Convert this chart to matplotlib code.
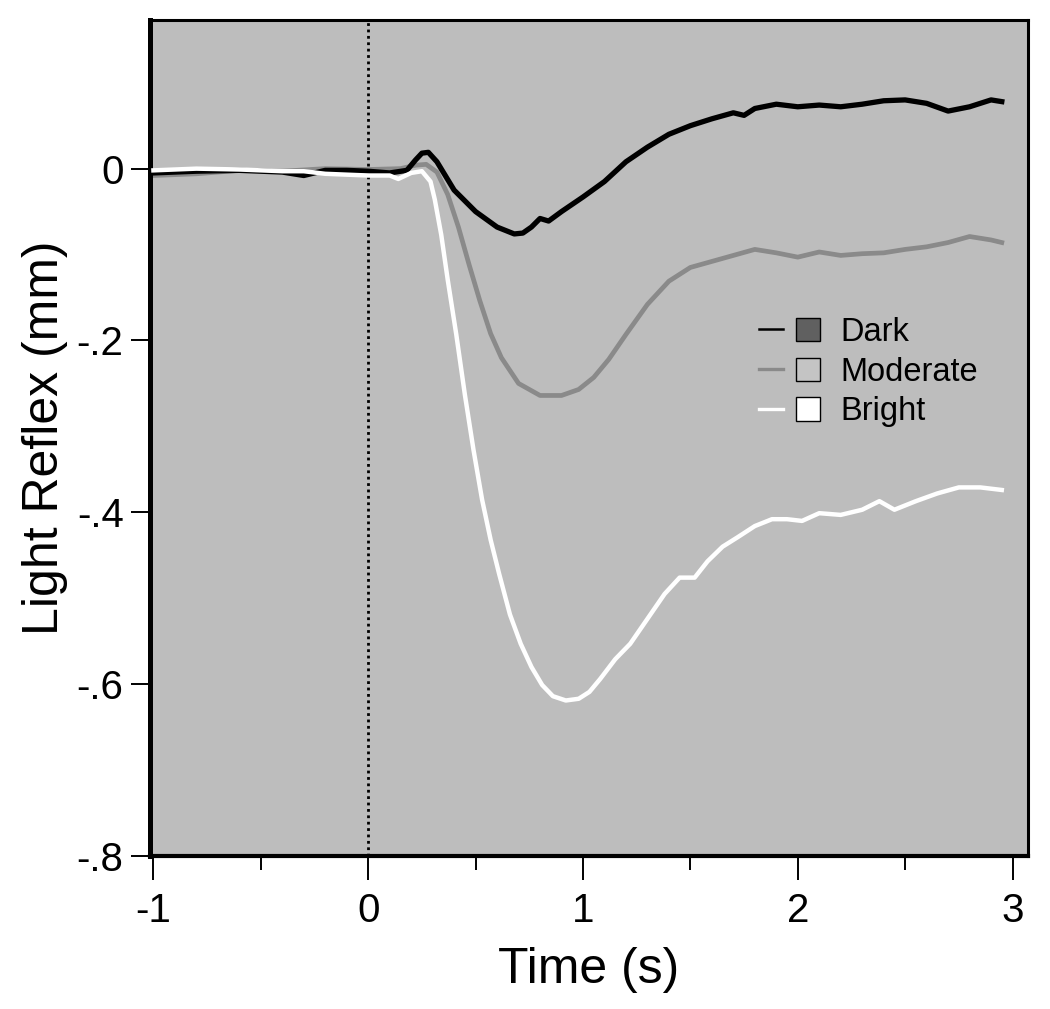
import matplotlib
matplotlib.use("Agg")
import matplotlib.pyplot as plt
from matplotlib.lines import Line2D
from matplotlib.patches import Patch
from matplotlib.legend_handler import HandlerTuple

plt.rcParams['font.family'] = ['Liberation Sans', 'DejaVu Sans']
plt.rcParams['axes.unicode_minus'] = False

# === Data ===
dark_t = [-1.0, -0.8, -0.6, -0.4, -0.3, -0.2, -0.1, 0.0, 0.1, 0.18, 0.22, 0.25,
          0.28, 0.32, 0.4, 0.5, 0.6, 0.68, 0.72, 0.76, 0.8, 0.84, 0.9, 1.0, 1.1,
          1.2, 1.3, 1.4, 1.5, 1.6, 1.7, 1.75, 1.8, 1.9, 2.0, 2.1, 2.2, 2.3, 2.4,
          2.5, 2.6, 2.7, 2.8, 2.9, 2.95]
dark_y = [-0.005, -0.003, -0.002, -0.004, -0.008, -0.002, -0.002, -0.003, -0.005,
          -0.002, 0.01, 0.018, 0.019, 0.008, -0.025, -0.05, -0.068, -0.076, -0.075,
          -0.068, -0.058, -0.061, -0.05, -0.033, -0.015, 0.008, 0.025, 0.04, 0.05,
          0.058, 0.065, 0.062, 0.07, 0.075, 0.072, 0.074, 0.072, 0.075, 0.079,
          0.08, 0.076, 0.067, 0.072, 0.08, 0.078]

moderate_t = [-1.0, -0.8, -0.6, -0.4, -0.2, 0.0, 0.15, 0.22, 0.27, 0.32, 0.37,
              0.42, 0.47, 0.52, 0.57, 0.62, 0.7, 0.8, 0.9, 0.98, 1.05, 1.12, 1.2,
              1.3, 1.4, 1.5, 1.6, 1.7, 1.8, 1.9, 2.0, 2.1, 2.2, 2.3, 2.4, 2.5,
              2.6, 2.7, 2.8, 2.9, 2.95]
moderate_y = [-0.008, -0.006, -0.002, -0.003, 0.0, -0.001, 0.0, 0.004, 0.005,
              -0.004, -0.03, -0.068, -0.112, -0.154, -0.192, -0.22, -0.25, -0.264,
              -0.264, -0.257, -0.243, -0.222, -0.193, -0.158, -0.131, -0.115,
              -0.108, -0.101, -0.094, -0.098, -0.103, -0.097, -0.101, -0.099,
              -0.098, -0.094, -0.091, -0.086, -0.079, -0.083, -0.086]

bright_t = [-1.0, -0.8, -0.6, -0.4, -0.3, -0.2, 0.0, 0.1, 0.14, 0.2, 0.25, 0.29,
            0.31, 0.34, 0.37, 0.41, 0.45, 0.49, 0.53, 0.57, 0.61, 0.66, 0.71,
            0.76, 0.81, 0.86, 0.92, 0.98, 1.03, 1.08, 1.15, 1.22, 1.3, 1.38,
            1.45, 1.52, 1.58, 1.65, 1.72, 1.8, 1.88, 1.95, 2.02, 2.1, 2.2, 2.3,
            2.38, 2.45, 2.55, 2.65, 2.75, 2.85, 2.95]
bright_y = [-0.002, 0.0, -0.001, -0.003, -0.003, -0.006, -0.008, -0.008, -0.012,
            -0.005, -0.003, -0.015, -0.036, -0.077, -0.129, -0.193, -0.263,
            -0.327, -0.385, -0.432, -0.472, -0.519, -0.553, -0.58, -0.601,
            -0.614, -0.619, -0.617, -0.609, -0.594, -0.571, -0.553, -0.524,
            -0.495, -0.476, -0.476, -0.457, -0.44, -0.429, -0.416, -0.408,
            -0.408, -0.41, -0.401, -0.403, -0.397, -0.387, -0.397, -0.387,
            -0.378, -0.371, -0.371, -0.374]

x_ticks = [-1, 0, 1, 2, 3]
x_minor = [-0.5, 0.5, 1.5, 2.5]
y_ticks = [0, -0.2, -0.4, -0.6, -0.8]
y_labels = ["0", "-.2", "-.4", "-.6", "-.8"]

# === Figure ===
fig = plt.figure(figsize=(10.5, 10.09), dpi=100)
ax = fig.add_axes([150 / 1050, 1 - 856 / 1009, 878 / 1050, 836 / 1009])
ax.set_facecolor('#bdbdbd')

# stimulus onset
ax.axvline(0, color='black', linestyle=(0, (1, 1.3)), linewidth=2.0, zorder=1)
ax.plot(moderate_t, moderate_y, color='#8a8a8a', linewidth=3.4,
        solid_joinstyle='round', zorder=2)
ax.plot(dark_t, dark_y, color='black', linewidth=3.8,
        solid_joinstyle='round', zorder=3)
ax.plot(bright_t, bright_y, color='white', linewidth=3.2,
        solid_joinstyle='round', zorder=4)

ax.set_xlim(-1.016, 3.072)
ax.set_ylim(-0.8, 0.173)
ax.set_xticks(x_ticks)
ax.set_xticklabels([str(v) for v in x_ticks])
ax.set_xticks(x_minor, minor=True)
ax.set_yticks(y_ticks)
ax.set_yticklabels(y_labels)

ax.tick_params(axis='x', which='major', direction='out', length=17, width=1.4,
               labelsize=29, pad=9)
ax.tick_params(axis='x', which='minor', direction='out', length=10, width=1.4)
ax.tick_params(axis='y', direction='out', length=14, width=1.4, labelsize=29, pad=5)

ax.spines['left'].set_linewidth(3.6)
ax.spines['bottom'].set_linewidth(3.0)
ax.spines['top'].set_linewidth(2.2)
ax.spines['right'].set_linewidth(2.2)

ax.set_xlabel("Time (s)", fontsize=36, labelpad=12)
ax.set_ylabel("Light Reflex (mm)", fontsize=36, labelpad=6)

# === Legend: short line + square per condition ===
handles = [
    (Line2D([], [], color='black', linewidth=1.8),
     Patch(facecolor='#606060', edgecolor='black', linewidth=1.0)),
    (Line2D([], [], color='#8a8a8a', linewidth=2.4),
     Patch(facecolor='#c4c4c4', edgecolor='black', linewidth=1.0)),
    (Line2D([], [], color='white', linewidth=2.4),
     Patch(facecolor='white', edgecolor='black', linewidth=1.0)),
]
ax.legend(handles, ["Dark", "Moderate", "Bright"],
          handler_map={tuple: HandlerTuple(ndivide=None, pad=0.38)},
          loc='upper left', bbox_to_anchor=(0.694, 0.645), frameon=False,
          fontsize=23.5, handlelength=1.85, handleheight=0.72, handletextpad=0.62,
          labelspacing=0.27, borderpad=0, borderaxespad=0)

plt.savefig("out.png", dpi=100)
